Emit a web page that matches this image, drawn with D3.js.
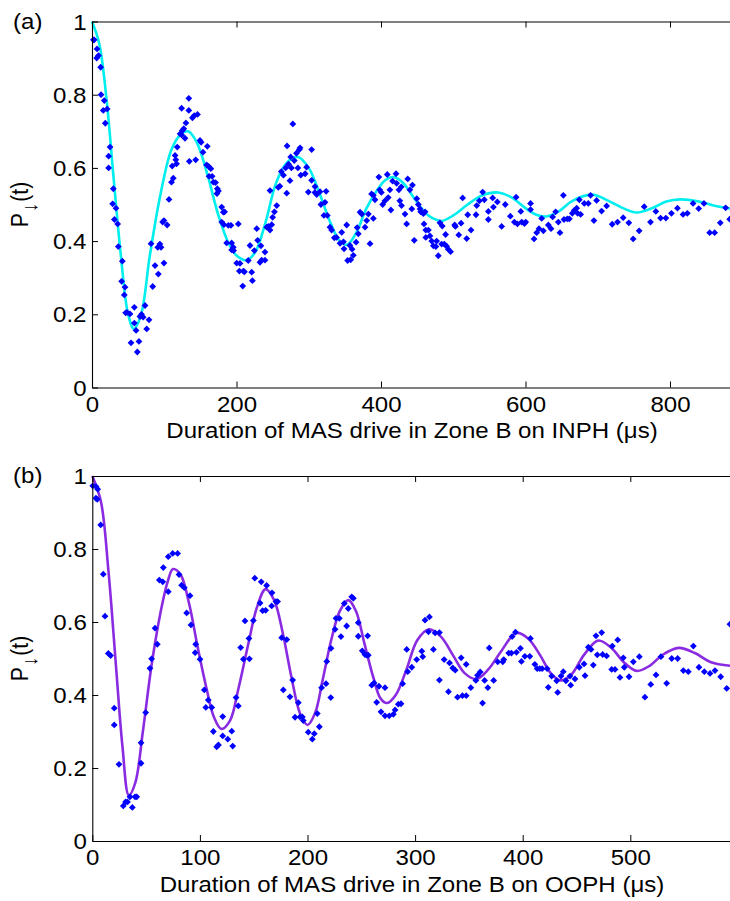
<!DOCTYPE html>
<html><head><meta charset="utf-8">
<script src="https://cdn.jsdelivr.net/npm/d3@7/dist/d3.min.js"></script>
<style>
html,body{margin:0;padding:0;background:#fff;}
svg{display:block;}
text{font-family:"Liberation Sans",Arial,sans-serif;fill:#000;}
</style></head>
<body>
<svg id="chart" width="730" height="901"></svg>
<script>
// ---------- DATA ----------
const xTicksA = [0, 200, 400, 600, 800];
const xTicksB = [0, 100, 200, 300, 400, 500];
const yTicks = [0, 0.2, 0.4, 0.6, 0.8, 1];
const panelLabels = ["(a)", "(b)"];
const xTitles = ["Duration of MAS drive in Zone B on INPH (\u03bcs)", "Duration of MAS drive in Zone B on OOPH (\u03bcs)"];

// panel (a) measured points [t (us), P]
const pointsA = [
[3,0.95],[2,0.95],[7,0.925],[9,0.907],[6.5,0.9],[12,0.875],[12.5,0.8],[17,0.784],[15.6,0.757],[21,0.761],[18.4,0.722],[25,0.657],[23,0.632],[23,0.6],[29.5,0.543],
[134,0.79],[124,0.763],[134,0.757],[141.6,0.743],[146,0.746],[139,0.737],[130,0.723],[125,0.702],[122,0.693],[127,0.707],[124,0.69],[128.7,0.681],[118,0.657],[115,0.634],[116,0.622],[117,0.611],[111,0.605],[112.5,0.572],[110,0.561],[106.6,0.514],[134.7,0.618],[143.5,0.622],[149.5,0.675],[151,0.67],[159.6,0.659],[153.6,0.643],[158.7,0.608],[161.5,0.604],[164.5,0.598],[162,0.577],[166.2,0.577],[168,0.561],[171,0.56],[173.5,0.543],[175,0.537],[173,0.53],
[28.6,0.502],[33.2,0.49],[31,0.459],[35.5,0.447],[36.4,0.385],[42,0.345],[41,0.29],[45.7,0.274],[44.7,0.253],[46.6,0.204],[48.5,0.205],[52.6,0.201],[58.6,0.219],[58.6,0.176],[61,0.156],[54,0.122],[65,0.126],[62.7,0.097],[66.4,0.194],[68.5,0.2],[70.8,0.192],[73.4,0.224],[75.7,0.16],[78.9,0.185],[84,0.276],[81.7,0.393],[87.2,0.333],[91.8,0.31],[91,0.383],[94,0.392],[95.5,0.383],[99.6,0.34],[97.8,0.452],[99.6,0.456],[104,0.444],
[179.5,0.493],[181.8,0.479],[183.5,0.48],[179.5,0.452],[182.6,0.445],[188.7,0.443],[192.3,0.443],[202.5,0.447],[186.4,0.395],[193.3,0.395],[195.6,0.383],[193.3,0.376],[196,0.374],[200.3,0.34],[204.8,0.339],[204,0.318],[209.5,0.318],[211,0.316],[208.6,0.277],[216.3,0.347],[218.7,0.388],[221,0.315],[222,0.292],[224.7,0.374],[228,0.434],[229.3,0.402],[232.5,0.342],[234.8,0.348],[239.4,0.348],[239.4,0.37],[233.8,0.387],[241.8,0.438],[244,0.44],[246.4,0.43],[248.7,0.445],[246.4,0.538],[250,0.465],[252.5,0.48],[255.7,0.497],[257.8,0.547],[260,0.55],[269.5,0.531],[274,0.565],
[265,0.58],[268,0.6],[272,0.61],[275,0.63],[278,0.72],[280,0.62],[283,0.64],[285,0.6],[287,0.65],[262,0.59],[270,0.66],[276,0.6],
[288,0.655],[304,0.65],[297,0.602],[295,0.584],[289,0.58],[304,0.566],[308.6,0.549],[299.4,0.534],[308.6,0.533],[311,0.527],[315.6,0.535],[324,0.536],[322.5,0.506],[316.8,0.5],[321,0.47],[325.7,0.47],[329.4,0.438],[331.7,0.43],[335.4,0.409],[338.5,0.41],[343.3,0.394],[345.6,0.424],[348,0.398],[352.5,0.444],[348.8,0.379],[357,0.388],[360,0.378],[361.7,0.361],[353.8,0.347],[358,0.349],[365.5,0.397],[368.6,0.42],[367,0.437],[371,0.479],[373.4,0.474],[377.9,0.438],[380.2,0.456],[384.8,0.393],[382.5,0.474],[387,0.529],[389.4,0.525],[391.7,0.513],[389.4,0.462],[397,0.575],[398.2,0.54],[400.5,0.533],[402.3,0.5],[405.5,0.51],[408.7,0.582],[410,0.519],[412.3,0.54],[413.7,0.485],[416,0.564],[420.8,0.584],[421.6,0.558],[424.8,0.54],[426,0.51],[428,0.548],[428.4,0.497],[433.2,0.474],[435.5,0.447],[437,0.57],[440,0.54],[443.5,0.553],[442.6,0.488],[446,0.402],[449.5,0.516],[451.7,0.5],[454,0.488],[455,0.48],[458.6,0.475],[461,0.48],[459.5,0.447],[462,0.43],[465.6,0.43],[462,0.41],[467.8,0.414],[470.2,0.4],[472.5,0.387],[477,0.4],[476,0.385],[479.3,0.36],[483.9,0.392],[487.6,0.392],[490.8,0.386],[493,0.378],[496.3,0.371],[481.6,0.45],[484.8,0.441],[489.4,0.418],[502,0.444],[503,0.44],[507.6,0.417],[510.8,0.449],[513,0.518],[518.6,0.407],[520,0.472],[524.6,0.43],[531.5,0.472],[532.5,0.497],[536.2,0.51],
[540.7,0.534],[543,0.513],[548.6,0.481],[548.6,0.459],[554.6,0.518],[555.6,0.493],[561,0.507],[567,0.44],[572,0.5],[579,0.468],[584.6,0.452],[587,0.52],[588.8,0.447],[593.5,0.481],[594.8,0.452],[598.5,0.448],[600.3,0.452],[607,0.503],[607,0.486],[611.8,0.406],[615.5,0.423],[618.7,0.434],[622.4,0.462],[624.7,0.428],[631.6,0.444],[635.3,0.434],[637.6,0.466],[641.7,0.48],[645.4,0.452],[647.7,0.423],[652.4,0.525],[653.3,0.459],[657.9,0.461],[660.7,0.461],[664.8,0.476],[667.6,0.484],[670.8,0.49],[672.2,0.476],[674.5,0.513],[676.3,0.473],[681.4,0.503],[686.9,0.503],[690.1,0.525],[694.7,0.456],[698.4,0.511],[705.3,0.482],[712.3,0.496],[720,0.446],[727.4,0.452],[735.2,0.464],[743,0.45],[749,0.406],[757.3,0.428],[764.3,0.494],[773,0.452],[780.4,0.481],[786.9,0.463],[794.3,0.463],[802,0.476],[810.3,0.49],[818.1,0.473],[824,0.476],[831.9,0.503],[839.7,0.489],[847,0.503],[854.9,0.423],[861.8,0.423],[869.6,0.45],[877,0.491],[882.6,0.46]
];

// panel (a) fitted curve
const fitA = [
[0,1.0],[10,0.94],[20,0.79],[30,0.57],[40,0.36],[50,0.2],[58,0.16],[68,0.2],[80,0.36],[95,0.53],[110,0.65],[122,0.69],[133,0.70],[145,0.67],[160,0.58],[175,0.47],[190,0.39],[202,0.357],[214,0.348],[226,0.37],[240,0.45],[255,0.56],[270,0.615],[285,0.63],[300,0.60],[315,0.53],[330,0.45],[343,0.40],[353,0.39],[365,0.42],[380,0.49],[395,0.54],[405,0.565],[417,0.575],[430,0.56],[445,0.52],[460,0.48],[472,0.462],[484,0.455],[500,0.47],[520,0.50],[540,0.525],[562,0.533],[580,0.52],[600,0.49],[615,0.472],[627,0.467],[645,0.48],[665,0.51],[692,0.527],[715,0.51],[735,0.49],[754,0.478],[775,0.49],[795,0.508],[814,0.514],[840,0.508],[865,0.495],[890,0.487]
];

// panel (b) measured points
const pointsB = [
[0.4,0.973],[3.5,0.971],[5,0.964],[3.4,0.939],[4.6,0.936],[7.8,0.866],[10.2,0.731],[11.8,0.616],[58.3,0.583],[62.3,0.715],[66,0.749],[65.5,0.71],[70.6,0.779],[74.7,0.788],[79.3,0.788],[70.6,0.683],[80.6,0.73],[83,0.701],[85.5,0.694],[90.8,0.672],[87.7,0.625],[91.7,0.592],[141.9,0.603],
[14.9,0.514],[17,0.508],[20.4,0.364],[20.4,0.318],[24.8,0.21],[28.8,0.096],[30.9,0.107],[32.7,0.107],[35,0.121],[37.2,0.092],[39.7,0.121],[41.3,0.121],[45.3,0.213],[45.3,0.269],[49.6,0.352],[53.6,0.473],[55.1,0.499],[60.4,0.539],[96.1,0.539],[95.6,0.516],[100.1,0.498],[104.1,0.414],[107.8,0.386],[105.5,0.366],[111,0.366],[112.5,0.3],[115.6,0.258],[117.2,0.263],[121.2,0.341],[121.2,0.288],[125.9,0.279],[129.6,0.301],[130.5,0.26],[133.6,0.393],[135.7,0.37],[137.9,0.53],[140.4,0.498],[145.6,0.555],[146,0.499],[149.7,0.604],[155.9,0.652],[158.3,0.631],[161.1,0.632],[166.7,0.644],[170.7,0.656],[172.2,0.656],[176,0.557],[180.7,0.552],[177.5,0.414],[183.7,0.395],[186.2,0.441],[188.4,0.339],[191.5,0.379],[193,0.34],[195.2,0.34],[196.1,0.33],[200.7,0.298],[204.5,0.279],[206.3,0.294],[209.1,0.349],[211,0.313],[213.1,0.42],[217.2,0.431],[217.9,0.492],
[151,0.72],[157,0.71],[162,0.7],[167,0.68],
[221.6,0.393],[221.8,0.528],[225.6,0.58],[226.5,0.61],[229.6,0.61],[231.1,0.56],[234.2,0.651],[236.4,0.589],[237.9,0.637],[241.1,0.669],[242.6,0.665],[247.2,0.598],[247.2,0.561],[250.9,0.521],[253.4,0.511],[255.9,0.562],[255,0.509],[256.5,0.509],[259.7,0.427],[261.9,0.433],[264.3,0.38],[266.4,0.424],[268.3,0.354],[272,0.42],[272,0.343],[276,0.343],[279.8,0.347],[281.4,0.359],[284.4,0.375],[286.9,0.376],[288.4,0.431],[292.2,0.525],[293.1,0.464],[296.9,0.476],[301.5,0.497],[306.2,0.52],[307.1,0.505],[309.2,0.605],[313.3,0.614],[312.4,0.573],[317,0.525],[318.6,0.57],[322.6,0.571],[322.6,0.441],[327,0.497],[331,0.409],[332,0.488],[335,0.474],[337.3,0.468],[339.4,0.394],[342.8,0.502],[344,0.398],[347.5,0.398],[347.5,0.484],[351.8,0.42],[356.5,0.44],[358,0.454],[360.5,0.463],[362.7,0.378],[364.6,0.44],[367.6,0.42],[368.9,0.529],[373,0.44],[376.8,0.491],[381.5,0.491],[382.4,0.497],[387,0.515],[389.5,0.515],[390.2,0.56],[393.3,0.572],[394.2,0.517],[397.9,0.528],[398.8,0.492],[402,0.506],[406.6,0.506],[407.2,0.555],[411.3,0.484],[413.5,0.472],[415.9,0.472],[418.1,0.472],[422.7,0.472],
[423.8,0.421],[426.9,0.452],[431.6,0.439],[432.5,0.407],[435.6,0.452],[437.7,0.464],[440.2,0.439],[444,0.452],[444.6,0.427],[448.6,0.444],[452.6,0.476],[457,0.485],[457.9,0.453],[461,0.531],[463.5,0.525],[465.6,0.482],[468.1,0.562],[469.3,0.51],[473.4,0.571],[474.3,0.511],[478,0.507],[482.7,0.47],[483.3,0.534],[485.8,0.47],[488.3,0.551],[490.4,0.448],[493.5,0.502],[494.4,0.476],[498.8,0.45],[502.8,0.491],[508.4,0.505],[513.6,0.394],[519,0.429],[523.9,0.455],[528.5,0.505],[533.8,0.432],[538.5,0.5],[544,0.5],[549.3,0.467],[553.9,0.464],[558.6,0.534],[563.8,0.476],[568.8,0.464],[574.1,0.459],[578.7,0.467],[584,0.45],[589.6,0.418],[592.6,0.594]
];

// panel (b) fitted curve
const fitB = [
[0,1.0],[8,0.93],[15,0.74],[22,0.48],[28,0.26],[34,0.125],[40,0.16],[47,0.3],[55,0.48],[63,0.62],[70,0.71],[75,0.745],[82,0.73],[90,0.65],[98,0.53],[106,0.42],[113,0.34],[120,0.307],[128,0.33],[136,0.42],[145,0.54],[153,0.64],[161,0.69],[169,0.66],[177,0.57],[185,0.45],[193,0.35],[200,0.318],[207,0.35],[214,0.44],[222,0.55],[230,0.63],[238,0.66],[245,0.63],[253,0.54],[261,0.45],[268,0.39],[274,0.378],[282,0.40],[292,0.47],[302,0.55],[313,0.58],[324,0.56],[335,0.51],[346,0.46],[357,0.444],[368,0.47],[380,0.52],[394,0.57],[405,0.555],[416,0.51],[426,0.46],[435,0.44],[445,0.455],[457,0.51],[470,0.549],[482,0.53],[494,0.49],[506,0.466],[518,0.48],[530,0.51],[545,0.529],[560,0.515],[575,0.49],[600,0.478]
];

// ---------- DRAWING ----------
const SX = 1.12, FS = 21.5;
const svg = d3.select("#chart");

const diamond = {
  draw(ctx, size) {
    const r = Math.sqrt(size / 2);
    ctx.moveTo(0, -r); ctx.lineTo(r, 0); ctx.lineTo(0, r); ctx.lineTo(-r, 0); ctx.closePath();
  }
};

function stretchedText(g, x, y, str, anchor, size) {
  const t = g.append("g").attr("transform", `translate(${x},${y}) scale(${SX},1)`)
    .append("text").attr("text-anchor", anchor).style("font-size", (size || FS) + "px").text(str);
  return t;
}

function panel(cfg) {
  const x = d3.scaleLinear().domain(cfg.xDomain).range(cfg.xRange);
  const y = d3.scaleLinear().domain([0, 1]).range([cfg.y0, cfg.y1]);
  const g = svg.append("g");

  // fit curve
  g.append("path").datum(cfg.fit)
    .attr("fill", "none").attr("stroke", cfg.lineColor).attr("stroke-width", 2.6)
    .attr("stroke-linejoin", "round")
    .attr("d", d3.line().x(d => x(d[0])).y(d => y(d[1])).curve(d3.curveCatmullRom.alpha(0.5)));

  // points
  const sym = d3.symbol().type(diamond).size(23);
  g.append("g").selectAll("path").data(cfg.points).join("path")
    .attr("transform", d => `translate(${x(d[0])},${y(d[1])})`)
    .attr("d", sym).attr("fill", "#0000ff");

  // axes
  const bottom = g.append("g").attr("transform", `translate(0,${cfg.y0})`)
    .call(d3.axisBottom(x).tickValues(cfg.xTicks).tickSize(-6).tickSizeOuter(0).tickFormat(d3.format("d")));
  const top = g.append("g").attr("transform", `translate(0,${cfg.y1})`)
    .call(d3.axisTop(x).tickValues(cfg.xTicks).tickSize(-6).tickSizeOuter(0).tickFormat(""));
  const left = g.append("g").attr("transform", `translate(${cfg.xRange[0]},0)`)
    .call(d3.axisLeft(y).tickValues(yTicks).tickSize(-6).tickSizeOuter(0).tickFormat(d3.format("~g")));
  [bottom, top, left].forEach(a => {
    a.select(".domain").attr("stroke", "#000").attr("stroke-width", 1.1);
    a.selectAll(".tick line").attr("stroke", "#000").attr("stroke-width", 1);
  });
  bottom.selectAll(".tick text")
    .attr("y", 24.5).attr("dy", null).attr("transform", `scale(${SX},1)`)
    .style("font-size", FS + "px").attr("fill", "#000");
  left.selectAll(".tick text")
    .attr("x", -5.5 / SX).attr("dy", null).attr("y", 7.6).attr("transform", `scale(${SX},1)`)
    .style("font-size", FS + "px").attr("fill", "#000");
  bottom.attr("font-family", null); left.attr("font-family", null);

  // x title
  stretchedText(svg, cfg.titleX, cfg.y0 + 50.5, cfg.title, "middle");
  // panel label
  stretchedText(svg, 13, cfg.labelY, cfg.label, "start");

  // y label  P↓(t)
  const yl = svg.append("g")
    .attr("transform", `translate(28,${(cfg.y0 + cfg.y1) / 2}) rotate(-90) scale(1,${SX})`)
    .append("text").attr("text-anchor", "middle").style("font-size", "21px");
  yl.append("tspan").text("P");
  yl.append("tspan").attr("dy", 8).attr("dx", 1).style("font-size", "19px").text("\u2193");
  yl.append("tspan").attr("dy", -8).attr("dx", 1).text("(t)");
}

panel({xDomain: [0, 900], xRange: [92, 92 + 900 * 0.7225], y0: 387.5, y1: 21.5,
  xTicks: xTicksA, points: pointsA, fit: fitA, lineColor: "#00eeee",
  title: xTitles[0], titleX: 412, label: panelLabels[0], labelY: 29});
panel({xDomain: [0, 600], xRange: [92.3, 92.3 + 600 * 1.076], y0: 841, y1: 476,
  xTicks: xTicksB, points: pointsB, fit: fitB, lineColor: "#8a2be2",
  title: xTitles[1], titleX: 412, label: panelLabels[1], labelY: 483});
</script>
</body></html>
